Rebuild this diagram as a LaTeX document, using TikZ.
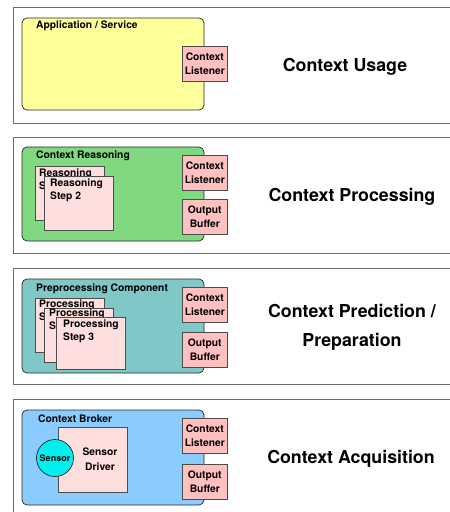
\documentclass[tikz,border=0pt]{standalone}
\usepackage{fontspec}
\setmainfont{TeX Gyre Heros}
\definecolor{outerline}{HTML}{6E6E6E}
\definecolor{cyellow}{HTML}{FFFF9C}
\definecolor{cgreen}{HTML}{80D880}
\definecolor{cteal}{HTML}{80C8C8}
\definecolor{cblue}{HTML}{8ACCFF}
\definecolor{cpink}{HTML}{FFC0C0}
\definecolor{clpink}{HTML}{FFDEDE}
\definecolor{ccyan}{HTML}{00F0F0}
\begin{document}
\begin{tikzpicture}[x=1pt,y=-1pt,
  layerbox/.style={draw=outerline,line width=0.9pt,fill=white},
  compbox/.style={draw=black!85,line width=0.7pt,rounded corners=5pt},
  portbox/.style={draw=black!70,line width=0.6pt,fill=cpink,minimum width=45pt,minimum height=35pt,anchor=north west,inner sep=0pt,align=center,font=\fontsize{10.3}{14}\selectfont\bfseries},
  stepbox/.style={draw=black!70,line width=0.6pt,fill=clpink,minimum width=69pt,minimum height=54pt,anchor=north west,inner sep=0pt},
  steptext/.style={anchor=north west,inner sep=0pt,align=left,font=\fontsize{10.3}{12.5}\selectfont\bfseries},
  comptitle/.style={anchor=west,inner sep=0pt,font=\fontsize{10.3}{11}\selectfont\bfseries},
  layertitle/.style={align=center,font=\fontsize{17.8}{29}\selectfont\bfseries}]
\useasboundingbox (0,0) rectangle (450,512);
% layer frames
\draw[layerbox] (460,7) -- (13,7) -- (13,123) -- (460,123);
\draw[layerbox] (460,137) -- (13,137) -- (13,253) -- (460,253);
\draw[layerbox] (460,268) -- (13,268) -- (13,384) -- (460,384);
\draw[layerbox] (460,399) -- (13,399) -- (13,520);
% layer 1
\draw[compbox,fill=cyellow] (22,18) rectangle (204,110);
\node[comptitle] (t1) at (36,26) {Application / Service};
\node[portbox] (l1) at (182,46) {Context\\Listener};
\node[layertitle] (u1) at (345,67) {Context Usage};
% layer 2
\draw[compbox,fill=cgreen] (22,147) rectangle (204,241);
\node[comptitle] (t2) at (36,156) {Context Reasoning};
\node[stepbox] (r1) at (35,166) {};
\node[steptext] (r1t) at (39,169) {Reasoning\\Step 1};
\node[stepbox] (r2) at (44,176) {};
\node[steptext] (r2t) at (50,179) {Reasoning\\Step 2};
\node[portbox] (l2) at (182,155) {Context\\Listener};
\node[portbox] (o2) at (182,199) {Output\\Buffer};
\node[layertitle] (u2) at (352,197) {Context Processing};
% layer 3
\draw[compbox,fill=cteal] (22,279) rectangle (204,373);
\node[comptitle] (t3) at (36,289) {Preprocessing Component};
\node[stepbox] (p1) at (35,298) {};
\node[steptext] (p1t) at (39,300) {Processing\\Step 1};
\node[stepbox] (p2) at (44,308) {};
\node[steptext] (p2t) at (49,309) {Processing\\Step 2};
\node[stepbox,minimum height=52pt] (p3) at (56,317) {};
\node[steptext] (p3t) at (63,320) {Processing\\Step 3};
\node[portbox] (l3) at (182,287) {Context\\Listener};
\node[portbox] (o3) at (182,332) {Output\\Buffer};
\node[layertitle] (u3) at (352,327) {Context Prediction /\\Preparation};
% layer 4
\draw[compbox,fill=cblue] (22,410) rectangle (204,505);
\node[comptitle] (t4) at (38,419) {Context Broker};
\node[stepbox,minimum height=65pt] (d4) at (58,427) {};
\node[align=center,font=\fontsize{10.3}{15}\selectfont\bfseries] (d4t) at (100,459) {Sensor\\Driver};
\node[circle,draw=black!85,line width=0.7pt,fill=ccyan,minimum size=37pt,inner sep=0pt,font=\fontsize{9}{10}\selectfont\bfseries] (s4) at (55,458) {Sensor};
\node[portbox] (l4) at (182,418) {Context\\Listener};
\node[portbox] (o4) at (182,464) {Output\\Buffer};
\node[layertitle] (u4) at (351,459) {Context Acquisition};
\end{tikzpicture}
\end{document}
